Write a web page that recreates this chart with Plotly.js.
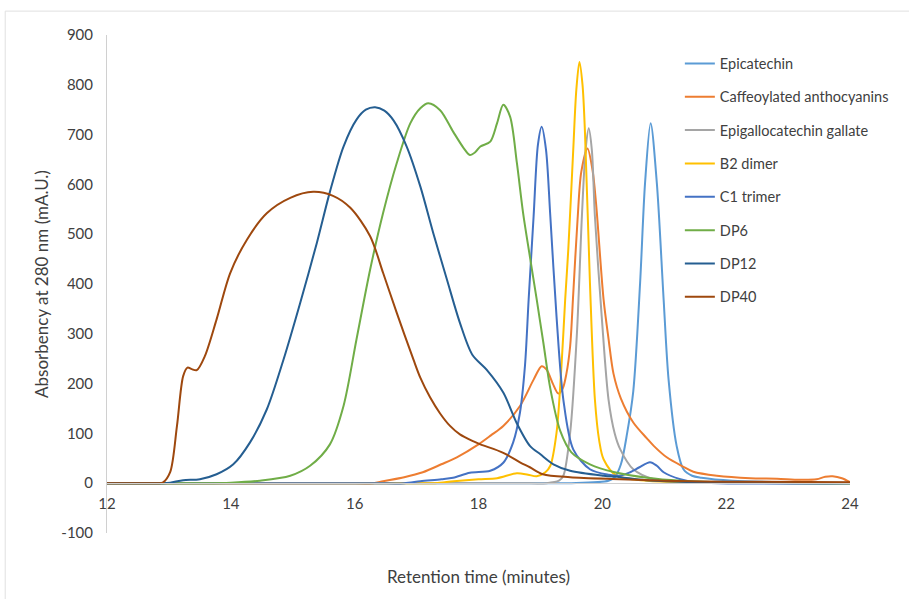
<!DOCTYPE html>
<html>
<head>
<meta charset="utf-8">
<script src="https://cdn.plot.ly/plotly-3.0.1.min.js"></script>
<style>html,body{margin:0;padding:0;background:#fff;}#chart{width:909px;height:599px;}</style>
</head>
<body>
<div id="chart"></div>
<script>
// ---- Data (retention time in minutes, absorbency in mA.U.) ----
const seriesNames = ["Epicatechin", "Caffeoylated anthocyanins", "Epigallocatechin gallate", "B2 dimer", "C1 trimer", "DP6", "DP12", "DP40"];

const epicatechinX = [12, 19.0, 19.5, 20.1, 20.2, 20.3, 20.4, 20.5, 20.61, 20.69, 20.78, 20.88, 20.99, 21.07, 21.2, 21.31, 21.45, 21.6, 22.1, 23, 24];
const epicatechinY = [0, 0, 0, 5, 12, 38, 100, 185, 402, 603, 723, 603, 369, 208, 75, 28, 15, 11, 5, 2, 1];

const caffeoylX = [12, 15.8, 16.3, 16.46, 16.8, 17.1, 17.4, 17.65, 18.0, 18.2, 18.4, 18.67, 18.89, 19.02, 19.1, 19.2, 19.29, 19.36, 19.42, 19.48, 19.53, 19.6, 19.66, 19.76, 19.84, 19.9, 20.02, 20.1, 20.18, 20.3, 20.5, 20.72, 20.83, 21.04, 21.31, 21.47, 21.85, 22.39, 22.82, 23.19, 23.46, 23.6, 23.72, 23.87, 24];
const caffeoylY = [0, 0, 0, 4, 12, 22, 38, 52, 78, 96, 115, 155, 208, 235, 228, 200, 180, 190, 220, 275, 380, 530, 625, 672, 630, 560, 369, 290, 220, 170, 122, 90, 75, 52, 33, 23, 15, 10, 9, 7, 8, 13, 14, 10, 2];

const egcgX = [12, 18.6, 19.1, 19.3, 19.37, 19.48, 19.59, 19.67, 19.73, 19.78, 19.83, 19.88, 19.99, 20.1, 20.2, 20.29, 20.5, 20.83, 21.2, 24];
const egcgY = [0, 0, 0, 5, 15, 101, 302, 536, 670, 713, 670, 536, 335, 168, 100, 68, 28, 8, 3, 0];

const b2X = [12, 16.8, 17.3, 17.6, 18.0, 18.3, 18.62, 18.8, 18.94, 19.08, 19.16, 19.26, 19.34, 19.4, 19.45, 19.53, 19.58, 19.63, 19.68, 19.72, 19.8, 19.88, 19.95, 20.02, 20.23, 20.72, 21.5, 24];
const b2Y = [0, 0, 0, 4, 8, 10, 20, 17, 14, 22, 35, 101, 235, 369, 469, 669, 790, 846, 800, 703, 402, 168, 85, 48, 15, 5, 2, 0];

const c1X = [12, 16.3, 16.8, 17.06, 17.4, 17.59, 17.86, 18.19, 18.4, 18.56, 18.67, 18.75, 18.81, 18.89, 18.96, 19.02, 19.09, 19.16, 19.26, 19.37, 19.53, 19.8, 20.1, 20.29, 20.45, 20.6, 20.77, 20.88, 20.99, 21.26, 21.5, 24];
const c1Y = [0, 0, 0, 4, 8, 11, 21, 25, 41, 82, 142, 235, 369, 536, 680, 716, 670, 536, 335, 168, 68, 28, 17, 15, 22, 32, 42, 35, 22, 8, 2, 0];

const dp6X = [12, 13.5, 14.0, 14.47, 14.96, 15.28, 15.6, 15.82, 16.03, 16.25, 16.46, 16.68, 16.9, 17.06, 17.19, 17.38, 17.59, 17.76, 17.86, 17.95, 18.03, 18.19, 18.3, 18.4, 18.51, 18.62, 18.72, 18.83, 18.94, 19.05, 19.16, 19.32, 19.5, 19.8, 20.2, 20.72, 21.26, 22, 24];
const dp6Y = [0, 0, 1, 5, 15, 35, 78, 155, 289, 429, 543, 643, 723, 753, 763, 749, 706, 673, 659, 665, 676, 686, 723, 760, 736, 643, 543, 455, 369, 280, 190, 105, 62, 38, 22, 11, 5, 2, 0];

const dp12X = [12, 12.6, 12.9, 13.02, 13.23, 13.5, 13.77, 14.04, 14.31, 14.58, 14.85, 15.12, 15.39, 15.6, 15.82, 16.03, 16.18, 16.33, 16.48, 16.63, 16.84, 17.06, 17.27, 17.49, 17.7, 17.9, 18.13, 18.4, 18.62, 18.83, 19.0, 19.21, 19.48, 20.02, 20.29, 20.7, 21.5, 24];
const dp12Y = [0, 0, 0, 1, 6, 8, 18, 38, 82, 148, 248, 362, 483, 585, 676, 730, 750, 755, 748, 728, 676, 596, 502, 409, 322, 258, 228, 182, 120, 75, 58, 38, 25, 15, 12, 6, 2, 0];

const dp40X = [12, 12.5, 12.8, 12.9, 13.02, 13.13, 13.23, 13.3, 13.37, 13.45, 13.58, 13.77, 13.99, 14.26, 14.58, 14.96, 15.33, 15.65, 15.93, 16.25, 16.46, 16.68, 16.95, 17.06, 17.22, 17.38, 17.54, 17.7, 17.92, 18.03, 18.4, 18.67, 18.83, 19.04, 19.48, 20.29, 21, 22, 24];
const dp40Y = [0, 0, 0, 1, 22, 115, 215, 232, 229, 227, 255, 329, 422, 489, 542, 573, 585, 577, 553, 496, 422, 342, 248, 212, 172, 140, 115, 98, 84, 78, 61, 42, 32, 18, 12, 8, 5, 3, 2];

const seriesColors = ["#5B9BD5", "#ED7D31", "#A5A5A5", "#FFC000", "#4472C4", "#70AD47", "#255E91", "#9E480E"];

const xTickVals = [12, 14, 16, 18, 20, 22, 24];
const yTickVals = [-100, 0, 100, 200, 300, 400, 500, 600, 700, 800, 900];

const xs = [epicatechinX, caffeoylX, egcgX, b2X, c1X, dp6X, dp12X, dp40X];
const ys = [epicatechinY, caffeoylY, egcgY, b2Y, c1Y, dp6Y, dp12Y, dp40Y];

const traces = seriesNames.map((name, i) => ({
  type: 'scatter',
  mode: 'lines',
  name: name,
  x: xs[i],
  y: ys[i],
  legendgroup: 'g' + i,
  line: {color: seriesColors[i], width: 2, shape: 'spline', smoothing: 0.85},
  hoverinfo: 'x+y+name'
}));

const fontFamily = 'Lato, "Open Sans", sans-serif';
const textColor = '#404040';

const layout = {
  width: 909,
  height: 599,
  margin: {l: 107, r: 59, t: 35, b: 66},
  paper_bgcolor: '#ffffff',
  plot_bgcolor: 'rgba(0,0,0,0)',
  font: {family: fontFamily, color: textColor, size: 15},
  showlegend: true,
  legend: {
    x: 0.771, xanchor: 'left',
    y: 0.975, yanchor: 'top',
    traceorder: 'grouped',
    tracegroupgap: 11.5,
    bgcolor: 'rgba(0,0,0,0)',
    font: {family: fontFamily, size: 14.5, color: textColor},
    itemwidth: 30
  },
  xaxis: {
    range: [12, 24],
    tickvals: xTickVals,
    ticktext: xTickVals.map(String),
    showgrid: false,
    zeroline: false,
    showline: true,
    linecolor: '#d0d0d0',
    linewidth: 1,
    ticks: '',
    anchor: 'free',
    position: 0.1,
    ticklabelstandoff: 7,
    tickfont: {family: fontFamily, size: 15, color: textColor},
    title: {text: 'Retention time (minutes)', font: {family: fontFamily, size: 17, color: textColor}, standoff: 59}
  },
  yaxis: {
    range: [-100, 900],
    tickvals: yTickVals,
    ticktext: yTickVals.map(String),
    showgrid: false,
    zeroline: false,
    showline: true,
    linecolor: '#d0d0d0',
    linewidth: 1,
    ticks: '',
    ticklabelstandoff: 10,
    tickfont: {family: fontFamily, size: 15, color: textColor},
    title: {text: 'Absorbency at 280 nm (mA.U.)', font: {family: fontFamily, size: 17, color: textColor}, standoff: 8}
  },
  shapes: [
    {type: 'line', xref: 'paper', yref: 'paper', x0: -0.137, x1: 1.2, y0: 1.048, y1: 1.048, line: {color: '#e0e0e0', width: 1}},
    {type: 'line', xref: 'paper', yref: 'paper', x0: -0.137, x1: -0.137, y0: 1.048, y1: -0.2, line: {color: '#e0e0e0', width: 1}}
  ]
};

Plotly.newPlot('chart', traces, layout, {displayModeBar: false, staticPlot: true});
</script>
</body>
</html>
